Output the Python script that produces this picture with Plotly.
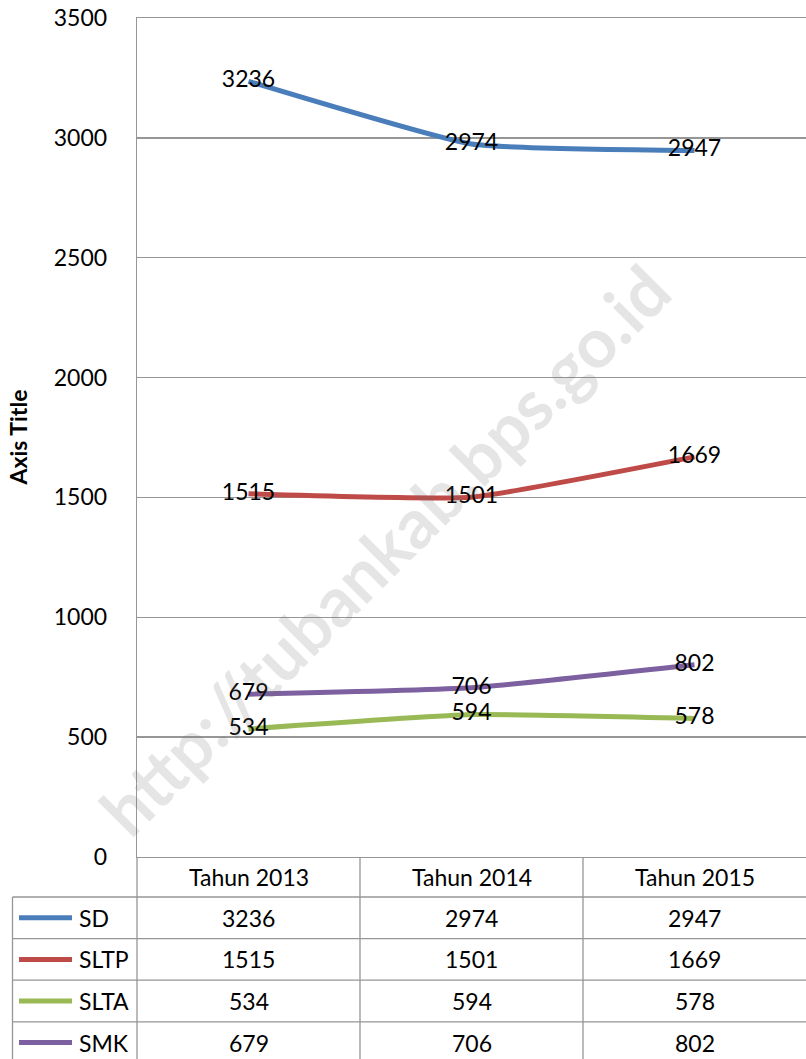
import plotly.graph_objects as go

# ---- data ----
categories = ["Tahun 2013", "Tahun 2014", "Tahun 2015"]
series_names = ["SD", "SLTP", "SLTA", "SMK"]
sd = [3236, 2974, 2947]
sltp = [1515, 1501, 1669]
slta = [534, 594, 578]
smk = [679, 706, 802]
y_ticks = [0, 500, 1000, 1500, 2000, 2500, 3000, 3500]
y_title = "Axis Title"
watermark = "http://tubankab.bps.go.id"

series_values = [sd, sltp, slta, smk]
colors = ["#4A7EBB", "#BE4B48", "#98B954", "#7D60A0"]

# ---- geometry (page pixels) ----
W, H = 806, 1059
plot_left, plot_right = 137, 806
plot_top, plot_bottom = 18, 857
table_left = 12.5
header_bottom = 897
row_h = 41.6
grid_color = "#969696"
FONT = "Lato"
FS = 23


def px(x):
    return x / W


def py(y):
    return 1 - y / H


fig = go.Figure()

for name, vals, col in zip(series_names, series_values, colors):
    fig.add_trace(go.Scatter(
        x=categories, y=vals, mode="lines", name=name,
        line=dict(color=col, width=5, shape="spline", smoothing=0.4),
        showlegend=False, hoverinfo="skip",
    ))
# data labels on top of all lines
for name, vals in zip(series_names, series_values):
    fig.add_trace(go.Scatter(
        x=categories, y=vals, mode="text", text=[str(v) for v in vals],
        textposition="middle center",
        textfont=dict(family=FONT, size=FS, color="black"),
        showlegend=False, hoverinfo="skip",
    ))

shapes = []
annotations = []

# table horizontal lines
n_rows = len(series_names)
row_tops = [header_bottom + i * row_h for i in range(n_rows + 1)]
for yl in row_tops:
    shapes.append(dict(type="line", xref="paper", yref="paper",
                       x0=px(table_left), x1=px(plot_right + 2), y0=py(yl), y1=py(yl),
                       line=dict(color=grid_color, width=1.3)))
# vertical line of y axis extended through table
shapes.append(dict(type="line", xref="paper", yref="paper",
                   x0=px(plot_left), x1=px(plot_left), y0=py(plot_bottom), y1=py(1080),
                   line=dict(color=grid_color, width=1.3)))
# left border of legend column
shapes.append(dict(type="line", xref="paper", yref="paper",
                   x0=px(table_left), x1=px(table_left), y0=py(header_bottom), y1=py(1080),
                   line=dict(color=grid_color, width=1.3)))
# column separators between categories
for j in range(len(categories) - 1):
    shapes.append(dict(type="line", xref="x", yref="paper",
                       x0=j + 0.5, x1=j + 0.5, y0=py(plot_bottom), y1=py(1080),
                       line=dict(color=grid_color, width=1.3)))

# header labels
for c in categories:
    annotations.append(dict(x=c, xref="x", y=py((plot_bottom + header_bottom) / 2), yref="paper",
                            text=c, showarrow=False, xanchor="center", yanchor="middle",
                            font=dict(family=FONT, size=FS, color="black")))
# rows
for i, (name, vals, col) in enumerate(zip(series_names, series_values, colors)):
    yc = header_bottom + (i + 0.5) * row_h
    shapes.append(dict(type="line", xref="paper", yref="paper",
                       x0=px(19), x1=px(72), y0=py(yc), y1=py(yc),
                       line=dict(color=col, width=5)))
    annotations.append(dict(x=px(77), xref="paper", y=py(yc), yref="paper",
                            text=name, showarrow=False, xanchor="left", yanchor="middle",
                            font=dict(family=FONT, size=FS, color="black")))
    for c, v in zip(categories, vals):
        annotations.append(dict(x=c, xref="x", y=py(yc), yref="paper",
                                text=str(v), showarrow=False, xanchor="center", yanchor="middle",
                                font=dict(family=FONT, size=FS, color="black")))

# axis title
annotations.append(dict(x=px(17), xref="paper", y=py((plot_top + plot_bottom) / 2), yref="paper",
                        text="<b>" + y_title + "</b>", textangle=-90, showarrow=False,
                        xanchor="center", yanchor="middle", borderpad=0,
                        font=dict(family=FONT, size=23, color="black")))
# watermark
annotations.append(dict(x=px(384), xref="paper", y=py(549), yref="paper",
                        text="<b>" + watermark + "</b>", textangle=-45, showarrow=False,
                        xanchor="center", yanchor="middle",
                        font=dict(family=FONT, size=69, color="rgba(110,110,110,0.18)")))

fig.update_layout(
    width=W, height=H, autosize=False,
    margin=dict(l=0, r=0, t=0, b=0, pad=0),
    paper_bgcolor="white", plot_bgcolor="white",
    hovermode=False,
    shapes=shapes, annotations=annotations,
    xaxis=dict(domain=[px(plot_left), px(plot_right)], type="category",
               range=[-0.5, len(categories) - 0.5], showticklabels=False,
               showgrid=False, zeroline=False, showline=True, mirror=True,
               linecolor=grid_color, linewidth=1.3, automargin=False, fixedrange=True),
    yaxis=dict(domain=[py(plot_bottom), py(plot_top)], range=[0, 3500],
               tickmode="array", tickvals=y_ticks, ticktext=[str(t) for t in y_ticks],
               showgrid=True, gridcolor=grid_color, gridwidth=1.3,
               zeroline=False, showline=True, linecolor=grid_color, linewidth=1.3,
               ticks="", ticklabelstandoff=24, ticklabeloverflow="allow",
               tickfont=dict(family=FONT, size=FS, color="black"),
               automargin=False, fixedrange=True),
)

fig.write_html("out.html", config={"displayModeBar": False, "staticPlot": True},
               post_script="document.body.style.margin='0px';")
